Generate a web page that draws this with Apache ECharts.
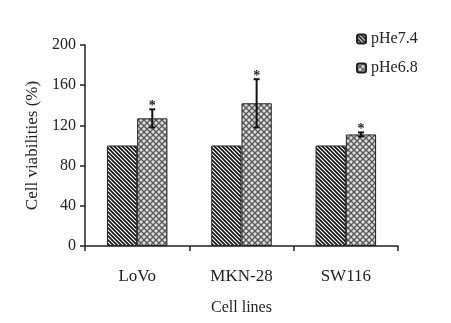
<!DOCTYPE html>
<html><head><meta charset="utf-8">
<script src="https://cdn.jsdelivr.net/npm/echarts@6/dist/echarts.min.js"></script>
<style>html,body{margin:0;padding:0;background:#fff}#c{width:451px;height:323px}</style>
</head><body><div id="c"></div>
<script>
const categories = ['LoVo', 'MKN-28', 'SW116'];
const seriesNames = ['pHe7.4', 'pHe6.8'];
const pHe74 = [100, 100, 100];
const pHe68 = [127, 142, 111];
const pHe68Err = [9, 24, 2];
const yTicks = [0, 40, 80, 120, 160, 200];

function stripePattern() {
  const c = document.createElement('canvas'); c.width = 8; c.height = 8;
  const g = c.getContext('2d');
  g.fillStyle = '#fff'; g.fillRect(0, 0, 8, 8);
  g.strokeStyle = '#111'; g.lineWidth = 1.6;
  for (let k = -3; k <= 3; k++) {
    g.beginPath(); g.moveTo(-2, -2 + k * 4); g.lineTo(10, 10 + k * 4); g.stroke();
  }
  return c;
}
function crossPattern() {
  const c = document.createElement('canvas'); c.width = 6; c.height = 6;
  const g = c.getContext('2d');
  g.fillStyle = '#bcbcbc'; g.fillRect(0, 0, 6, 6);
  g.strokeStyle = '#555'; g.lineWidth = 1.1;
  for (let k = -2; k <= 2; k++) {
    g.beginPath(); g.moveTo(-2, -2 + k * 6); g.lineTo(8, 8 + k * 6); g.stroke();
    g.beginPath(); g.moveTo(-2, 8 + k * 6); g.lineTo(8, -2 + k * 6); g.stroke();
  }
  g.fillStyle = '#eee';
  [[3, 0], [0, 3], [6, 3], [3, 6]].forEach(p => { g.beginPath(); g.arc(p[0], p[1], 0.9, 0, Math.PI * 2); g.fill(); });
  return c;
}

const FONT = 'Liberation Serif';
const chart = echarts.init(document.getElementById('c'), null, { renderer: 'canvas' });
const barW = 0.29;
chart.setOption({
  animation: false,
  textStyle: { fontFamily: FONT, color: '#222' },
  grid: { left: 85, right: 53, top: 45, bottom: 77 },
  legend: {
    orient: 'vertical', left: 351, top: 26, itemWidth: 9, itemHeight: 9, itemGap: 13,
    data: seriesNames,
    textStyle: { fontFamily: FONT, fontSize: 16, color: '#222' }
  },
  xAxis: {
    type: 'category', data: categories,
    name: 'Cell lines', nameLocation: 'middle', nameGap: 54,
    nameTextStyle: { fontFamily: FONT, fontSize: 16, color: '#222' },
    axisLine: { lineStyle: { color: '#222', width: 1.5 } },
    axisTick: { show: true, length: 5, lineStyle: { color: '#222', width: 1.5 } },
    axisLabel: { fontFamily: FONT, fontSize: 17, color: '#222', margin: 22 }
  },
  yAxis: {
    type: 'value', min: yTicks[0], max: yTicks[yTicks.length - 1], interval: 40,
    name: 'Cell viabilities (%)', nameLocation: 'middle', nameGap: 38,
    nameTextStyle: { fontFamily: FONT, fontSize: 17, color: '#222' },
    axisLine: { show: true, lineStyle: { color: '#222', width: 1.5 } },
    axisTick: { show: true, length: 5, lineStyle: { color: '#222', width: 1.5 } },
    axisLabel: { fontFamily: FONT, fontSize: 16, color: '#222', margin: 9 },
    splitLine: { show: false }
  },
  series: [
    {
      name: seriesNames[0], type: 'bar', data: pHe74, barWidth: (barW * 100) + '%', barGap: '0%',
      itemStyle: { color: { image: stripePattern(), repeat: 'repeat' }, borderColor: '#222', borderWidth: 1 }
    },
    {
      name: seriesNames[1], type: 'bar', data: pHe68, barWidth: (barW * 100) + '%', barGap: '0%',
      itemStyle: { color: { image: crossPattern(), repeat: 'repeat' }, borderColor: '#222', borderWidth: 1 }
    },
    {
      name: 'err', type: 'custom', z: 5,
      data: pHe68.map((v, i) => [i, v, pHe68Err[i]]),
      encode: { x: 0, y: 1 },
      renderItem: function (params, api) {
        const x = api.value(0), v = api.value(1), e = api.value(2);
        const band = api.size([1, 0])[0];
        const off = band * barW / 2;
        const top = api.coord([x, v + e]);
        const bot = api.coord([x, v - e]);
        const cx = top[0] + off;
        const st = { stroke: '#111', lineWidth: 2 };
        return {
          type: 'group', children: [
            { type: 'line', shape: { x1: cx, y1: top[1], x2: cx, y2: bot[1] }, style: st },
            { type: 'line', shape: { x1: cx - 3, y1: top[1], x2: cx + 3, y2: top[1] }, style: st },
            { type: 'line', shape: { x1: cx - 3, y1: bot[1], x2: cx + 3, y2: bot[1] }, style: st },
            { type: 'text', style: { text: '*', x: cx, y: top[1] - 3, align: 'center', verticalAlign: 'middle', font: 'bold 14px "Liberation Serif"', fill: '#222' } }
          ]
        };
      }
    }
  ]
});
</script></body></html>
